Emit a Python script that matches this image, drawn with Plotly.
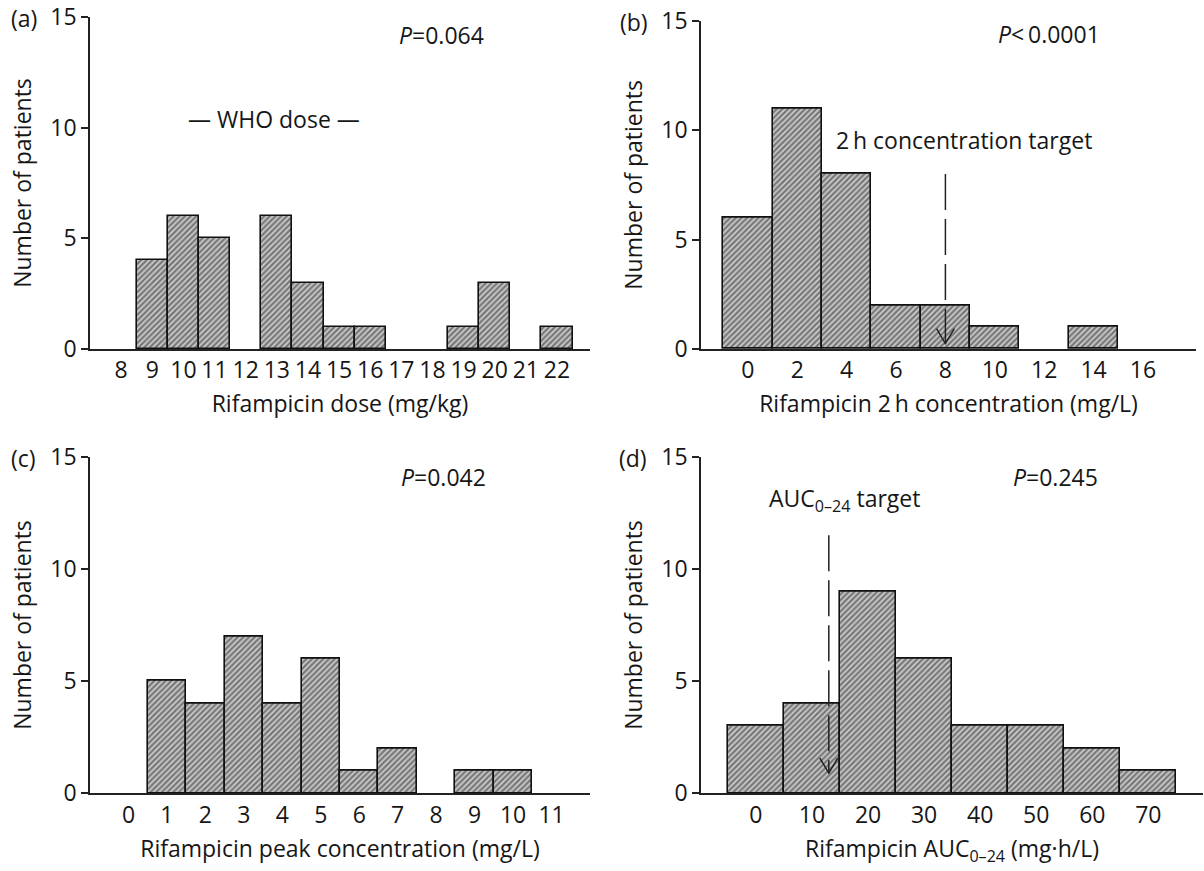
import plotly.graph_objects as go

# ---- histogram data: number of patients per bin ----
dose_bins = [8, 9, 10, 11, 12, 13, 14, 15, 16, 17, 18, 19, 20, 21, 22]
dose_counts = [0, 4, 6, 5, 0, 6, 3, 1, 1, 0, 0, 1, 3, 0, 1]

conc2h_bins = [0, 2, 4, 6, 8, 10, 12, 14, 16]
conc2h_counts = [6, 11, 8, 2, 2, 1, 0, 1, 0]

peak_bins = [0, 1, 2, 3, 4, 5, 6, 7, 8, 9, 10, 11]
peak_counts = [0, 5, 4, 7, 4, 6, 1, 2, 0, 1, 1, 0]

auc_bins = [0, 10, 20, 30, 40, 50, 60, 70]
auc_counts = [3, 4, 9, 6, 3, 3, 2, 1]

y_ticks = [0, 5, 10, 15]

p_values = ["<i>P</i>=0.064", "<i>P</i>&lt;\u20090.0001", "<i>P</i>=0.042", "<i>P</i>=0.245"]

target_2h = 8      # mg/L
target_auc = 13    # mg·h/L

FONT = "Open Sans"
INK = "#161616"
FS = 23

W, H = 1204, 871


def dom_x(a, b):
    return [a / W, b / W]


def dom_y(top, bottom):
    return [1 - bottom / H, 1 - top / H]


panels = [
    dict(bins=dose_bins, counts=dose_counts, width=1, xr=[7, 23.06],
         xd=dom_x(90, 590), yd=dom_y(17, 349), title="Rifampicin dose (mg/kg)"),
    dict(bins=conc2h_bins, counts=conc2h_counts, width=2, xr=[-1.9, 18.15],
         xd=dom_x(701, 1196), yd=dom_y(20.7, 349), title="Rifampicin 2\u2009h concentration (mg/L)"),
    dict(bins=peak_bins, counts=peak_counts, width=1, xr=[-1.0, 12.0],
         xd=dom_x(90, 590), yd=dom_y(456.7, 793.3), title="Rifampicin peak concentration (mg/L)"),
    dict(bins=auc_bins, counts=auc_counts, width=10, xr=[-9.8, 79.75],
         xd=dom_x(701, 1203), yd=dom_y(456.7, 793.3),
         title="Rifampicin AUC<sub>0\u201324</sub> (mg\u00b7h/L)"),
]

fig = go.Figure()
layout = dict(
    width=W, height=H,
    margin=dict(l=0, r=0, t=0, b=0),
    paper_bgcolor="white", plot_bgcolor="white",
    showlegend=False,
    font=dict(family=FONT, size=FS, color=INK),
    bargap=0,
)

annotations = []
for i, p in enumerate(panels):
    n = "" if i == 0 else str(i + 1)
    xa, ya = "x" + n, "y" + n
    # empty bins are left undrawn so the baseline stays a single clean line
    heights = [c if c > 0 else None for c in p["counts"]]
    fig.add_trace(go.Bar(
        x=p["bins"], y=heights, width=p["width"],
        xaxis=xa, yaxis=ya,
        marker=dict(
            color="#cccccc",
            line=dict(color="#111111", width=1.6),
            pattern=dict(shape="/", size=4, solidity=0.55,
                         fgcolor="#222222", bgcolor="#cccccc"),
        ),
        hoverinfo="x+y",
    ))
    layout["xaxis" + n] = dict(
        domain=p["xd"], anchor=ya, range=p["xr"],
        tickvals=p["bins"], ticktext=[str(b) for b in p["bins"]],
        showline=True, linecolor="#222", linewidth=1.5,
        ticks="", showgrid=False, zeroline=False, automargin=False,
        ticklabeloverflow="allow",
        tickfont=dict(family=FONT, size=FS, color=INK),
        title=dict(text=p["title"], standoff=12,
                   font=dict(family=FONT, size=FS, color=INK)),
        fixedrange=True,
    )
    layout["yaxis" + n] = dict(
        domain=p["yd"], anchor=xa, range=[0, 15],
        tickvals=y_ticks, ticks="outside", ticklen=7, tickwidth=1.5, tickcolor="#222",
        showline=True, linecolor="#222", linewidth=1.5,
        showgrid=False, zeroline=False, automargin=False,
        ticklabeloverflow="allow",
        tickfont=dict(family=FONT, size=FS, color=INK),
        title=dict(text="Number of patients", standoff=12,
                   font=dict(family=FONT, size=FS, color=INK)),
        fixedrange=True,
    )

# panel letters
for letter, px, py in [("(a)", 9, 18), ("(b)", 618, 22), ("(c)", 9, 458), ("(d)", 617, 458)]:
    annotations.append(dict(text=letter, x=px / W, y=1 - py / H, xref="paper", yref="paper",
                            xanchor="left", yanchor="middle", showarrow=False,
                            font=dict(family=FONT, size=FS, color=INK)))

# P values
for (txt, xa, ya, xv, yv) in [
    (p_values[0], "x", "y", 18.3, 14.2),
    (p_values[1], "x2", "y2", 12.2, 14.4),
    (p_values[2], "x3", "y3", 8.2, 14.1),
    (p_values[3], "x4", "y4", 53.5, 14.1),
]:
    annotations.append(dict(text=txt, x=xv, y=yv, xref=xa, yref=ya, showarrow=False,
                            xanchor="center", yanchor="middle",
                            font=dict(family=FONT, size=FS, color=INK)))

# WHO dose label
annotations.append(dict(text="\u2014 WHO dose \u2014", x=12.92, y=10.4, xref="x", yref="y",
                        showarrow=False, font=dict(family=FONT, size=FS, color=INK)))

# target labels
annotations.append(dict(text="2\u2009h concentration target", x=8.77, y=9.55, xref="x2", yref="y2",
                        showarrow=False, font=dict(family=FONT, size=FS, color=INK)))
annotations.append(dict(text="AUC<sub>0\u201324</sub> target", x=15.75, y=13.1, xref="x4", yref="y4",
                        showarrow=False, font=dict(family=FONT, size=FS, color=INK)))

# dashed target lines ending in an open V arrowhead
# (half-width in x units, head height in y units, top and tip of the line)
for t, xa, ya, half_w, head_h, top, tip in [
    (target_2h, "x2", "y2", 0.36, 0.68, 8.0, 0.25),
    (target_auc, "x4", "y4", 1.6, 0.67, 11.5, 0.9),
]:
    fig.add_trace(go.Scatter(x=[t, t], y=[top, tip], mode="lines", xaxis=xa, yaxis=ya,
                             line=dict(color="#222", width=1.5, dash="36px,9px"),
                             hoverinfo="skip"))
    fig.add_trace(go.Scatter(x=[t - half_w, t, t + half_w], y=[tip + head_h, tip, tip + head_h],
                             mode="lines", xaxis=xa, yaxis=ya,
                             line=dict(color="#222", width=1.5), hoverinfo="skip"))

layout["annotations"] = annotations
fig.update_layout(**layout)
fig.write_html("out.html")
